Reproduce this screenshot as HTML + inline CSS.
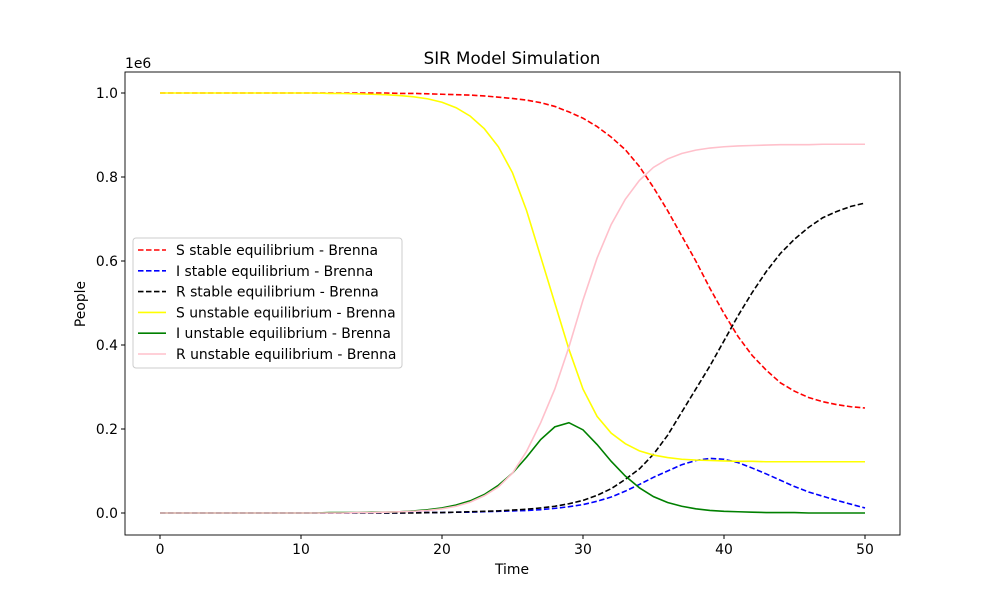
<!DOCTYPE html>
<html><head><meta charset="utf-8"><style>
body{margin:0;background:#fff;font-family:"Liberation Sans","DejaVu Sans",sans-serif;}
svg text{font-family:"DejaVu Sans","Liberation Sans",sans-serif;}
</style></head><body>
<svg id="chart" width="1000" height="600" xmlns="http://www.w3.org/2000/svg">
<rect x="0" y="0" width="1000" height="600" fill="#fff"/>
<text x="512" y="64" font-size="16.7" text-anchor="middle">SIR Model Simulation</text>
<text x="512" y="574" font-size="13.9" text-anchor="middle">Time</text>
<text x="85" y="304" font-size="13.9" text-anchor="middle" transform="rotate(-90 85 304)">People</text>
<text x="125" y="68" font-size="13.9">1e6</text>
<g id="series"></g>
<g id="axes"></g>
<g id="legend"></g>
</svg>
<script>
const times = Array.from({length:51},(_,i)=>i);
const sStable = [1,1,1,1,1,1,1,1,1,1,1,1,1,1,1,1,1,0.999,0.999,0.998,0.997,0.996,0.995,0.993,0.99,0.987,0.983,0.977,0.968,0.955,0.94,0.92,0.895,0.865,0.825,0.775,0.72,0.66,0.6,0.535,0.475,0.42,0.375,0.34,0.31,0.29,0.275,0.265,0.258,0.253,0.25];
const iStable = [0,0,0,0,0,0,0,0,0,0,0,0,0,0,0,0,0,0,0.001,0.001,0.001,0.002,0.002,0.003,0.004,0.005,0.006,0.008,0.011,0.015,0.02,0.028,0.038,0.052,0.068,0.085,0.1,0.115,0.125,0.13,0.128,0.12,0.107,0.093,0.078,0.063,0.05,0.04,0.03,0.021,0.012];
const rStable = [0,0,0,0,0,0,0,0,0,0,0,0,0,0,0,0,0,0,0,0.001,0.001,0.002,0.003,0.004,0.005,0.007,0.009,0.012,0.016,0.022,0.03,0.042,0.058,0.08,0.105,0.14,0.185,0.24,0.295,0.35,0.41,0.47,0.525,0.575,0.618,0.652,0.68,0.703,0.718,0.73,0.738];
const sUnstable = [1,1,1,1,1,1,1,1,1,1,1,1,0.999,0.999,0.998,0.997,0.996,0.994,0.991,0.986,0.978,0.965,0.945,0.915,0.872,0.81,0.72,0.61,0.5,0.39,0.295,0.23,0.19,0.165,0.148,0.138,0.132,0.128,0.126,0.125,0.124,0.123,0.123,0.122,0.122,0.122,0.122,0.122,0.122,0.122,0.122];
const iUnstable = [0,0,0,0,0,0,0,0,0,0,0,0,0.001,0.001,0.001,0.002,0.002,0.003,0.005,0.008,0.012,0.019,0.029,0.044,0.066,0.095,0.133,0.175,0.205,0.215,0.198,0.163,0.123,0.088,0.06,0.039,0.025,0.016,0.01,0.006,0.004,0.003,0.002,0.001,0.001,0.001,0,0,0,0,0];
const rUnstable = [0,0,0,0,0,0,0,0,0,0,0,0,0,0,0.001,0.001,0.002,0.003,0.004,0.006,0.01,0.016,0.026,0.041,0.062,0.095,0.147,0.215,0.295,0.395,0.507,0.607,0.687,0.747,0.792,0.823,0.843,0.856,0.864,0.869,0.872,0.874,0.875,0.876,0.877,0.877,0.877,0.878,0.878,0.878,0.878];
const xTicks = [0,10,20,30,40,50];
const yTicks = [0,0.2,0.4,0.6,0.8,1.0];
const yTickLabels = ["0.0","0.2","0.4","0.6","0.8","1.0"];
const seriesNames = ["S stable equilibrium - Brenna","I stable equilibrium - Brenna","R stable equilibrium - Brenna","S unstable equilibrium - Brenna","I unstable equilibrium - Brenna","R unstable equilibrium - Brenna"];

const NS="http://www.w3.org/2000/svg";
const L=125,R=900,T=72,B=535;
const xS=v=>160+v*14.1;
const yS=v=>513-v*420;
const series=[
 {d:sStable,c:"red",dash:true,n:"s-stable-line"},
 {d:iStable,c:"blue",dash:true,n:"i-stable-line"},
 {d:rStable,c:"black",dash:true,n:"r-stable-line"},
 {d:sUnstable,c:"yellow",dash:false,n:"s-unstable-line"},
 {d:iUnstable,c:"green",dash:false,n:"i-unstable-line"},
 {d:rUnstable,c:"pink",dash:false,n:"r-unstable-line"}];
const sg=document.getElementById('series');
series.forEach(s=>{
 const p=document.createElementNS(NS,'polyline');
 p.setAttribute('points',s.d.map((v,i)=>xS(times[i])+','+yS(v)).join(' '));
 p.setAttribute('fill','none');p.setAttribute('stroke',s.c);p.setAttribute('stroke-width','1.6');
 if(s.dash)p.setAttribute('stroke-dasharray','5.5,2.5');
 
 
 sg.appendChild(p);
});
const ag=document.getElementById('axes');
const fr=document.createElementNS(NS,'rect');
fr.setAttribute('x',L);fr.setAttribute('y',T);fr.setAttribute('width',R-L);fr.setAttribute('height',B-T);
fr.setAttribute('fill','none');fr.setAttribute('stroke','#000');fr.setAttribute('stroke-width','0.9');


ag.appendChild(fr);
xTicks.forEach(t=>{
 const l=document.createElementNS(NS,'line');
 l.setAttribute('x1',xS(t));l.setAttribute('x2',xS(t));l.setAttribute('y1',B);l.setAttribute('y2',B+4);l.setAttribute('stroke','#000');
 
 
 ag.appendChild(l);
 const tx=document.createElementNS(NS,'text');
 tx.setAttribute('x',xS(t));tx.setAttribute('y',B+19);tx.setAttribute('font-size','13.9');tx.setAttribute('text-anchor','middle');
 tx.textContent=t;
 
 
 ag.appendChild(tx);
});
yTicks.forEach((t,i)=>{
 const l=document.createElementNS(NS,'line');
 l.setAttribute('x1',L-4);l.setAttribute('x2',L);l.setAttribute('y1',yS(t));l.setAttribute('y2',yS(t));l.setAttribute('stroke','#000');
 
 
 ag.appendChild(l);
 const tx=document.createElementNS(NS,'text');
 tx.setAttribute('x',L-7);tx.setAttribute('y',yS(t)+5);tx.setAttribute('font-size','13.9');tx.setAttribute('text-anchor','end');
 tx.textContent=yTickLabels[i];
 
 
 ag.appendChild(tx);
});
const lg=document.getElementById('legend');
const box=document.createElementNS(NS,'rect');
box.setAttribute('x',133);box.setAttribute('y',238);box.setAttribute('width',269);box.setAttribute('height',130);box.setAttribute('rx',3);
box.setAttribute('fill','#fff');box.setAttribute('fill-opacity','0.8');box.setAttribute('stroke','#ccc');


lg.appendChild(box);
series.forEach((s,i)=>{
 const y=250+i*20.8;
 const l=document.createElementNS(NS,'line');
 l.setAttribute('x1',138);l.setAttribute('x2',166);l.setAttribute('y1',y);l.setAttribute('y2',y);
 l.setAttribute('stroke',s.c);l.setAttribute('stroke-width','1.6');
 if(s.dash)l.setAttribute('stroke-dasharray','5.5,2.5');
 
 
 lg.appendChild(l);
 const tx=document.createElementNS(NS,'text');
 tx.setAttribute('x',176);tx.setAttribute('y',y+5);tx.setAttribute('font-size','13.9');
 tx.textContent=seriesNames[i];
 
 
 lg.appendChild(tx);
});
</script>
</body></html>
